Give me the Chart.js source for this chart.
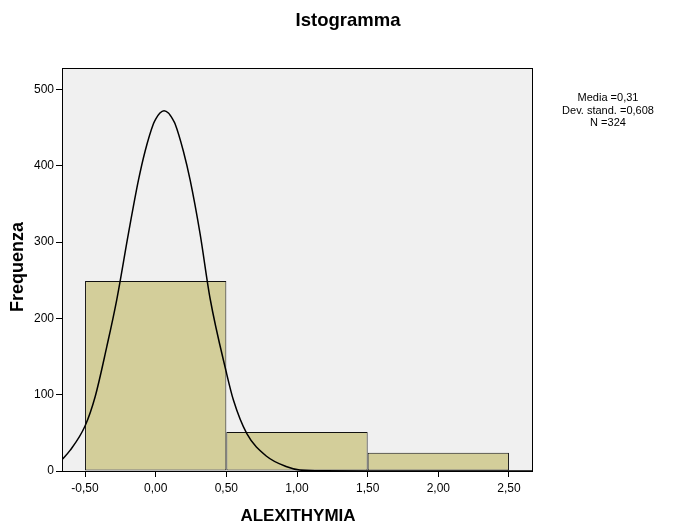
<!DOCTYPE html>
<html><head><meta charset="utf-8">
<script src="https://cdn.jsdelivr.net/npm/chart.js@4"></script>
<style>html,body{margin:0;padding:0;background:#fff;}#wrap{width:673px;height:525px;position:relative;}</style>
</head><body><div id="wrap"><canvas id="c" width="673" height="525"></canvas></div>
<script>
const binCenters = [0, 1, 2];
const binCounts = [249, 51, 24];
const curveX = [-0.663, -0.606, -0.5, -0.429, -0.346, -0.276, -0.193, -0.122, -0.075, -0.016, 0.0, 0.03, 0.059, 0.09, 0.12, 0.137, 0.196, 0.244, 0.314, 0.385, 0.499, 0.55, 0.645, 0.787, 0.928, 1.02, 1.2, 1.6, 2.663];
const curveY = [15, 27, 59, 97, 163, 224, 311, 381, 419, 455, 461, 469, 472, 469, 461, 455, 419, 381, 311, 226, 130, 93, 49, 19, 5.6, 1.3, 0.2, 0, 0];
const xTickValues = [-0.5, 0, 0.5, 1, 1.5, 2, 2.5];
const xTickLabels = ["-0,50", "0,00", "0,50", "1,00", "1,50", "2,00", "2,50"];
const yTickValues = [0, 100, 200, 300, 400, 500];
const titleText = "Istogramma";
const xTitle = "ALEXITHYMIA";
const yTitle = "Frequenza";
const statsLines = ["Media =0,31", "Dev. stand. =0,608", "N =324"];

const FONT = "'Liberation Sans', Arial, sans-serif";
const binWidth = binCenters[1] - binCenters[0];
const tickStep = xTickValues[1] - xTickValues[0];

const decor = {
  id: 'decor',
  beforeDatasetsDraw(chart) {
    const {ctx, chartArea: a} = chart;
    ctx.save();
    ctx.fillStyle = '#f0f0f0';
    ctx.fillRect(a.left, a.top, a.right - a.left, a.bottom - a.top);
    ctx.restore();
  },
  afterDraw(chart) {
    const {ctx, chartArea: a} = chart;
    ctx.save();
    ctx.strokeStyle = '#000';
    ctx.lineWidth = 1;
    ctx.strokeRect(Math.round(a.left) + 0.5, Math.round(a.top) + 0.5, Math.round(a.right - a.left), Math.round(a.bottom - a.top));
    ctx.fillStyle = '#000';
    ctx.textAlign = 'center';
    ctx.textBaseline = 'middle';
    ctx.font = "bold 18.5px " + FONT;
    ctx.fillText(titleText, 348, 21);
    ctx.font = "bold 17px " + FONT;
    ctx.fillText(xTitle, 298, 516);
    ctx.save();
    ctx.translate(18, 267);
    ctx.rotate(-Math.PI / 2);
    ctx.font = "bold 18px " + FONT;
    ctx.fillText(yTitle, 0, 0);
    ctx.restore();
    ctx.font = "11px " + FONT;
    statsLines.forEach((t, i) => ctx.fillText(t, 608, 98 + i * 12.5));
    ctx.restore();
  }
};

new Chart(document.getElementById('c'), {
  data: {
    datasets: [
      {
        type: 'line',
        data: curveX.map((x, i) => ({x, y: curveY[i]})),
        borderColor: '#000',
        borderWidth: 1.5,
        pointRadius: 0,
        cubicInterpolationMode: 'monotone',
        fill: false,
        order: 0
      },
      {
        type: 'bar',
        data: binCenters.map((x, i) => ({x, y: binCounts[i]})),
        backgroundColor: '#d3ce9a',
        borderColor: '#111',
        borderWidth: 1,
        borderSkipped: false,
        barPercentage: binWidth / tickStep,
        categoryPercentage: 1,
        grouped: false,
        order: 1
      }
    ]
  },
  plugins: [decor],
  options: {
    responsive: false,
    animation: false,
    devicePixelRatio: 1,
    layout: {padding: {left: 0, top: 68, right: 141, bottom: 0}},
    plugins: {legend: {display: false}, tooltip: {enabled: false}, title: {display: false}},
    scales: {
      x: {
        type: 'linear',
        min: -0.663,
        max: 2.663,
        offset: false,
        afterFit: s => { s.height = 54; },
        afterBuildTicks: s => { s.ticks = xTickValues.map(v => ({value: v})); },
        ticks: {
          autoSkip: false,
          maxRotation: 0,
          color: '#000',
          font: {family: FONT, size: 12},
          padding: 4,
          callback: (v) => { const i = xTickValues.indexOf(v); return i >= 0 ? xTickLabels[i] : ''; }
        },
        grid: {display: true, offset: false, drawOnChartArea: false, drawTicks: true, tickLength: 6, color: '#000', tickColor: '#000'},
        border: {display: true, color: '#000'}
      },
      y: {
        type: 'linear',
        min: 0,
        max: 528,
        afterFit: s => { s.width = 62; },
        afterBuildTicks: s => { s.ticks = yTickValues.map(v => ({value: v})); },
        ticks: {
          color: '#000',
          font: {family: FONT, size: 12},
          padding: 2,
          callback: v => String(v)
        },
        grid: {display: true, drawOnChartArea: false, drawTicks: true, tickLength: 6, color: '#000', tickColor: '#000'},
        border: {display: true, color: '#000'}
      }
    }
  }
});
</script>
</body></html>
